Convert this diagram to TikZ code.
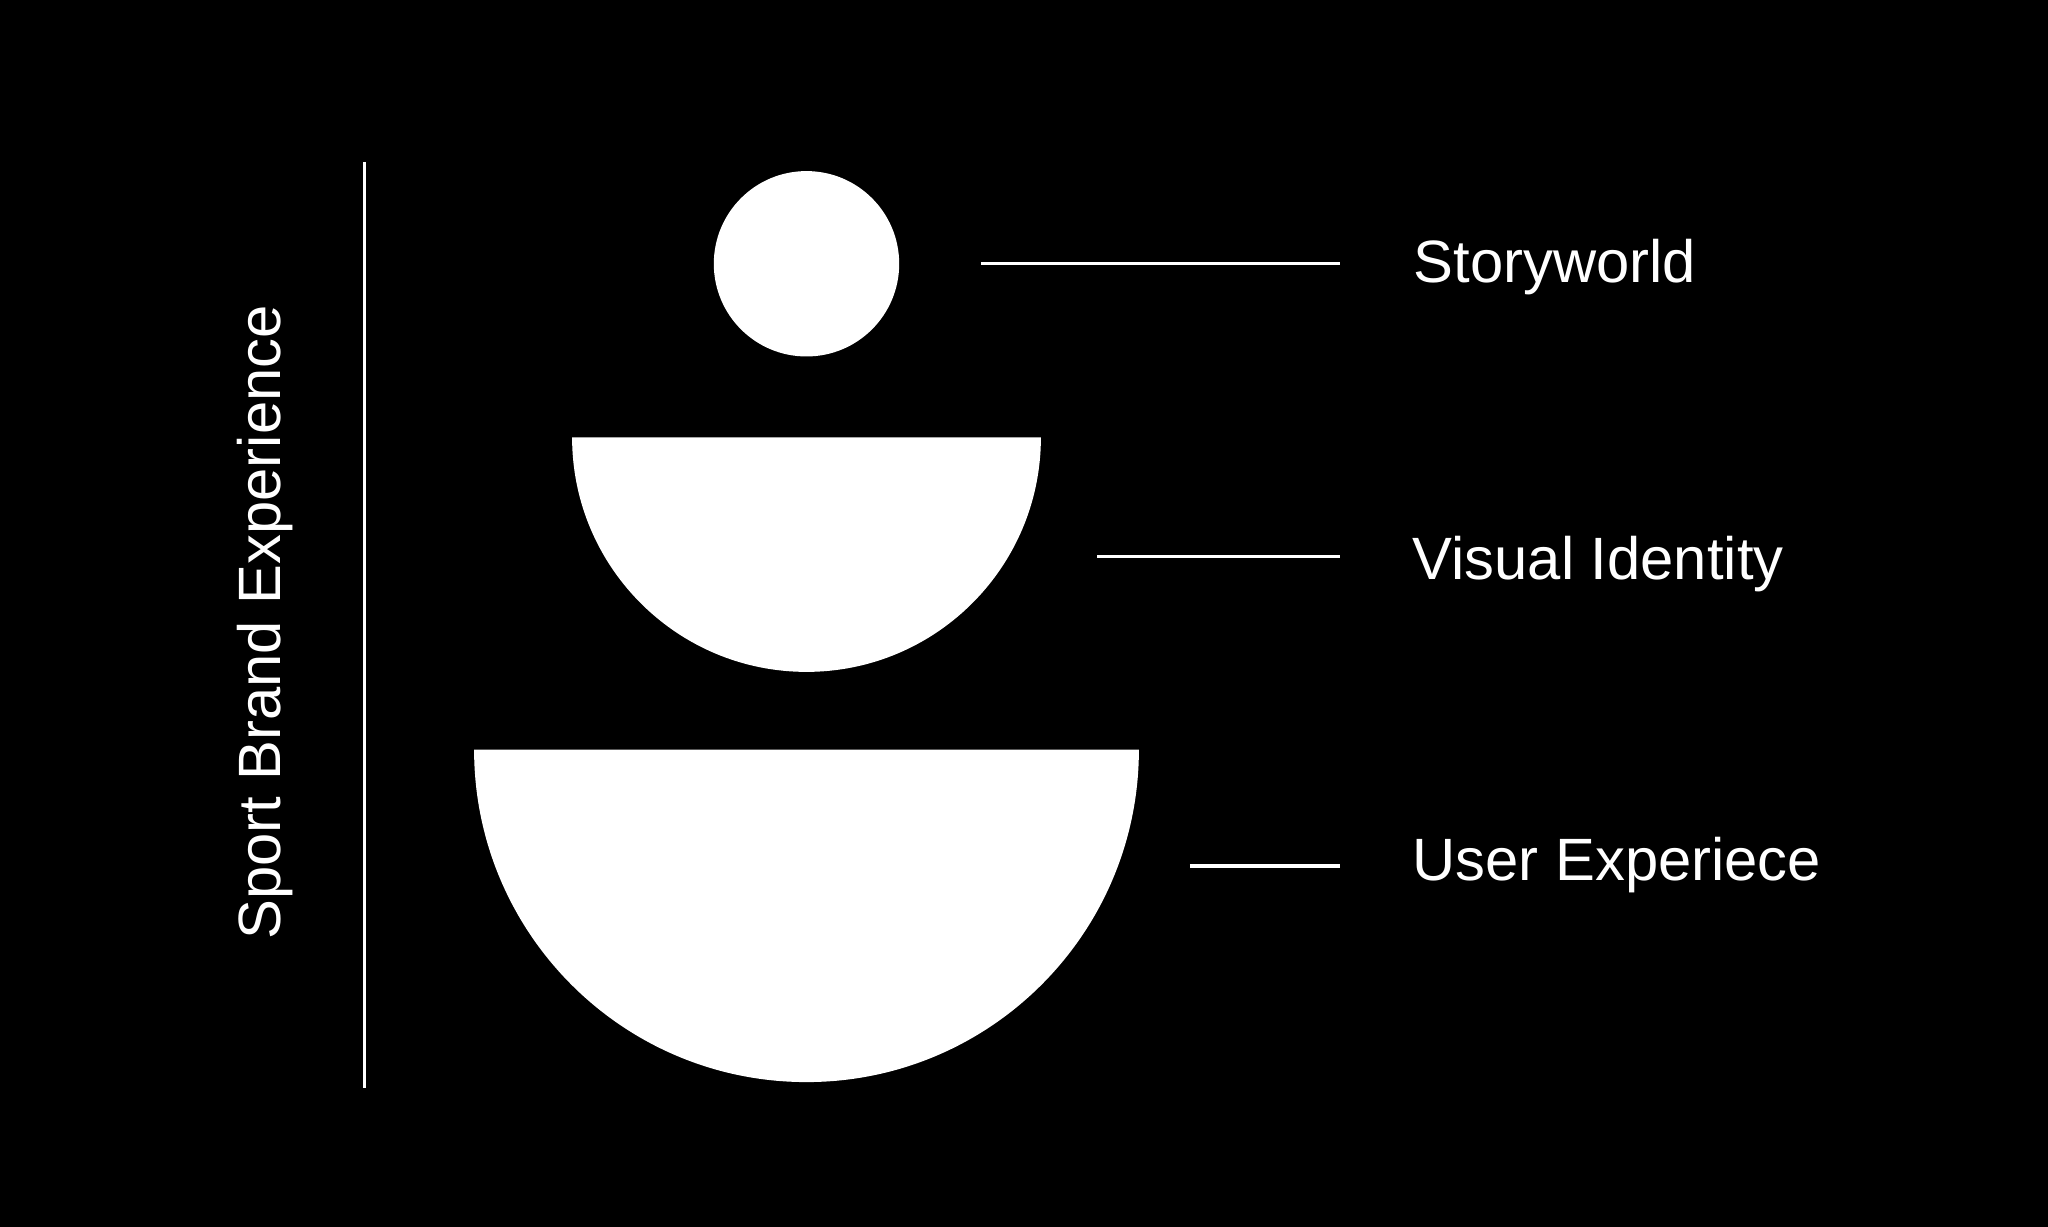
\documentclass[tikz,border=0pt]{standalone}
\usepackage{fontspec}
\setmainfont{Liberation Sans}
\usepackage{xcolor}

\tikzset{
	layerlabel/.style={text=white, inner sep=0pt, anchor=base west, font=\fontsize{17pt}{20pt}\selectfont},
	leader/.style={draw=white, line width=0.9pt},
	layershape/.style={fill=white, draw=none}
}

\begin{document}
\begin{tikzpicture}
			\fill[black] (0, 0) rectangle (20.48, 12.27);
			\useasboundingbox (0, 0) rectangle (20.48, 12.27);

			\coordinate (axistop) at (3.644, 10.65);
			\coordinate (axisbottom) at (3.644, 1.39);
			\coordinate (storycord) at (8.065, 9.632);
			\coordinate (visualcord) at (8.065, 7.895);
			\coordinate (usercord) at (8.065, 4.773);

			\node[layerlabel, rotate=90, anchor=base] (brand) at (2.80, 6.045) {Sport Brand Experience};
			\draw[leader] (axistop) -- (axisbottom);

			% the three layers
			\fill[layershape] (storycord) circle (0.927);
			\fill[layershape] (visualcord) +(-2.344, 0) arc [start angle = 180, end angle = 360, radius = 2.344] -- cycle;
			\fill[layershape] (usercord) +(-3.324, 0) arc [start angle = 180, end angle = 360, radius = 3.324] -- cycle;

			\node[layerlabel] (story) at (14.13, 9.445) {Storyworld};
			\node[layerlabel] (visual) at (14.12, 6.47) {Visual Identity};
			\node[layerlabel] (user) at (14.12, 3.46) {User Experiece};

			\coordinate (storyA) at (9.809, 9.632);
			\coordinate (storyB) at (13.401, 9.632);
			\coordinate (visualA) at (10.971, 6.706);
			\coordinate (visualB) at (13.401, 6.706);
			\coordinate (userA) at (11.899, 3.61);
			\coordinate (userB) at (13.401, 3.61);

			\draw[leader] (storyA) -- (storyB);
			\draw[leader] (visualA) -- (visualB);
			\draw[leader] (userA) -- (userB);
		\end{tikzpicture}
\end{document}
